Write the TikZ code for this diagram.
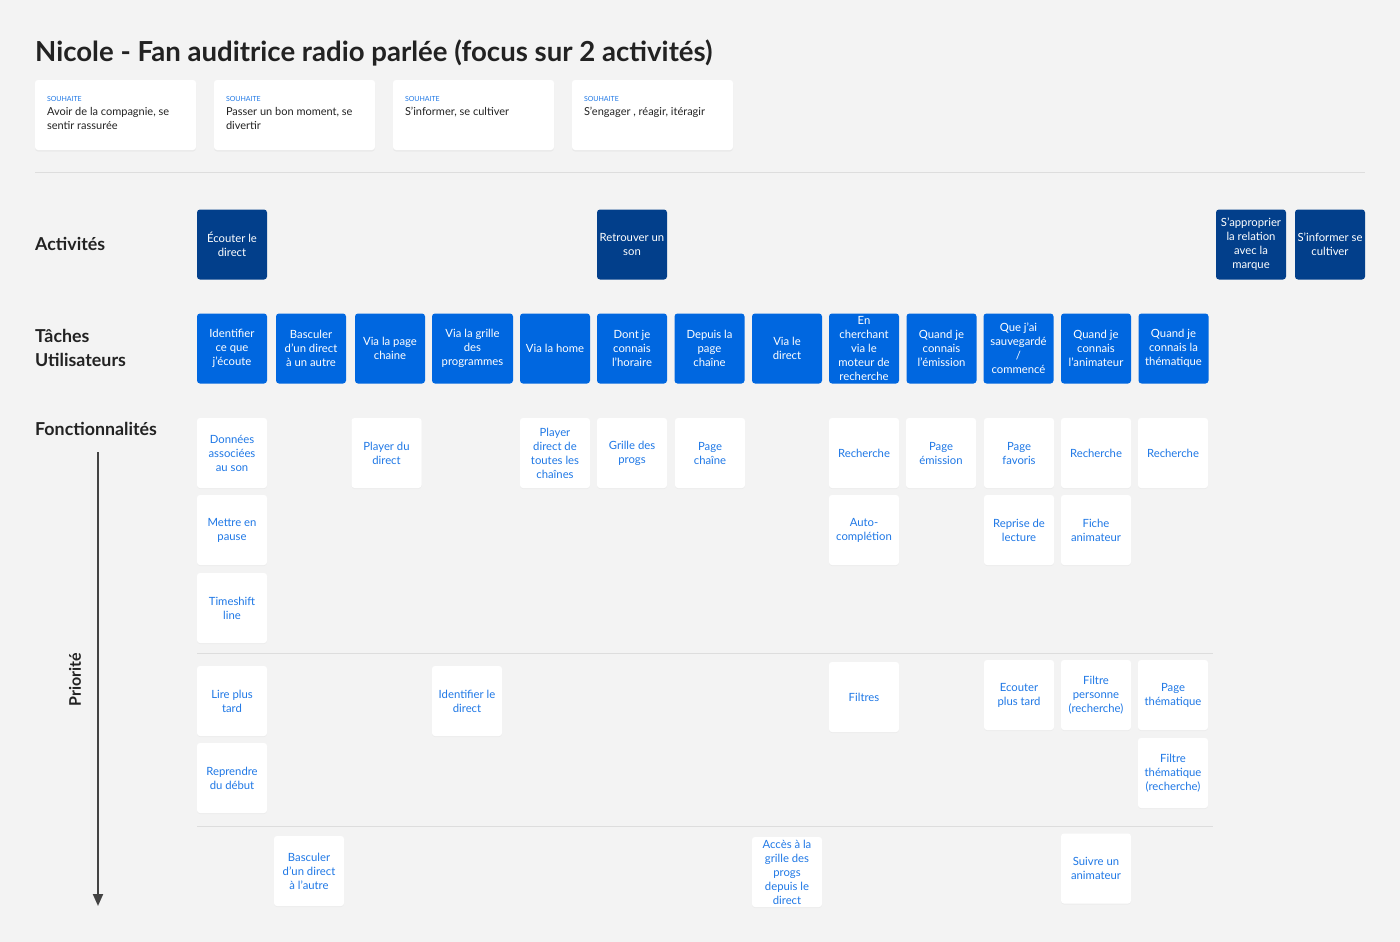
\documentclass[tikz,border=0pt]{standalone}
\usepackage{fontspec}
\setmainfont{Lato}
\usetikzlibrary{positioning,calc,arrows.meta,shadows}
\definecolor{mbg}{HTML}{F3F3F3}
\definecolor{mink}{HTML}{222222}
\definecolor{mnavy}{HTML}{023F8B}
\definecolor{mblue}{HTML}{0067E0}
\definecolor{mtext}{HTML}{1F78E6}
\definecolor{mline}{HTML}{DDDDDD}
\newcommand{\boxfont}{\fontsize{11.3}{14}\selectfont}
\newcommand{\titlefont}{\fontsize{27.6}{32}\selectfont\bfseries}
\newcommand{\labelfont}{\fontsize{17.8}{24}\selectfont\bfseries}
\tikzstyle{card}=[rectangle, rounded corners=3pt, fill=white, minimum width=70pt, minimum height=70pt, inner sep=1pt, align=center, font=\boxfont, text=mtext]
\tikzstyle{feat}=[card, drop shadow={opacity=0.06, shadow xshift=0pt, shadow yshift=-1pt}]
\tikzstyle{activity}=[card, fill=mnavy, text=white]
\tikzstyle{task}=[card, fill=mblue, text=white]
\tikzstyle{wish}=[card, minimum width=161pt, drop shadow={opacity=0.08, shadow xshift=0pt, shadow yshift=-1.5pt}]
\tikzstyle{wishlabel}=[inner sep=0pt, font=\fontsize{7}{8}\selectfont, text=mtext]
\tikzstyle{wishtext}=[inner sep=0pt, align=left, font=\fontsize{11}{14}\selectfont, text=mink]
\tikzstyle{rowlabel}=[inner sep=0pt, align=left, font=\labelfont, text=mink]
\tikzstyle{divider}=[draw=mline, line width=1pt]

\begin{document}
\begin{tikzpicture}[x=1pt, y=-1pt, node distance=77pt, on grid]

    \path[fill=mbg] (0,0) rectangle (1400,942);
    \useasboundingbox (0,0) rectangle (1400,942);

    \node (title) [anchor=base west, inner sep=0pt, font=\titlefont, text=mink] at (35,62) {Nicole - Fan auditrice radio parlée (focus sur 2 activités)};

    % souhaits
    \foreach \x/\n/\txt in {115.5/w1/{Avoir de la compagnie, se\\sentir rassurée},
                            294.5/w2/{Passer un bon moment, se\\divertir},
                            473.5/w3/{S'informer, se cultiver},
                            652.5/w4/{S'engager , réagir, itéragir}}{
            \node (\n) [wish] at (\x,115) {};
            \node [wishlabel, anchor=north west] at ($(\n.north west)+(12,16)$) {SOUHAITE};
            \node [wishtext, anchor=north west] at ($(\n.north west)+(12,27)$) {\txt};
        }

    \coordinate (s1l) at (35,172); \coordinate (s1r) at (1365,172);
    \draw[divider] (s1l) -- (s1r);

    % lignes
    \node (lact) [rowlabel, anchor=west] at (35,244) {Activités};
    \node (ltask) [rowlabel, anchor=west] at (35,348) {Tâches\\Utilisateurs};
    \node (lfeat) [rowlabel, anchor=west] at (35,429) {Fonctionnalités};

    % activités
    \node (a1) [activity] at (232,244.5) {Écouter le\\direct};
    \node (a2) [activity] at (632,244.5) {Retrouver un\\son};
    \node (a3) [activity] at (1251,244.5) {S'approprier\\la relation\\avec la\\marque};
    \node (a4) [activity] at (1330,244.5) {S'informer se\\cultiver};

    % taches
    \foreach \x/\w/\n/\txt in {232/70/t1/{Identifier\\ce que\\j'écoute},
                               311/70/t2/{Basculer\\d'un direct\\à un autre},
                               390/70/t3/{Via la page\\chaine},
                               472.5/81/t4/{Via la grille\\des\\programmes},
                               555/70/t5/{Via la home},
                               632/70/t6/{Dont je\\connais\\l'horaire},
                               709.5/70/t7/{Depuis la\\page\\chaîne},
                               787/70/t8/{Via le\\direct},
                               864/70/t9/{En\\cherchant\\via le\\moteur de\\recherche},
                               941.5/70/t10/{Quand je\\connais\\l'émission},
                               1018.5/70/t11/{Que j'ai\\sauvegardé\\/\\commencé},
                               1096/70/t12/{Quand je\\connais\\l'animateur},
                               1173.5/70/t13/{Quand je\\connais la\\thématique}}{
            \node (\n) [task, minimum width=\w pt] at (\x,348.5) {\txt};
        }

    % fonctionnalites
    \node (f11) [feat] at (232,453) {Données\\associées\\au son};
    \node (f12) [feat] at (386.5,453) {Player du\\direct};
    \node (f13) [feat] at (555,453) {Player\\direct de\\toutes les\\chaînes};
    \node (f14) [feat] at (632,453) {Grille des\\progs};
    \node (f15) [feat] at (710,453) {Page\\chaîne};
    \node (f16) [feat] at (864,453) {Recherche};
    \node (f17) [feat] at (941,453) {Page\\émission};
    \node (f18) [feat] at (1019,453) {Page\\favoris};
    \node (f19) [feat] at (1096,453) {Recherche};
    \node (f110) [feat] at (1173,453) {Recherche};

    \node (f21) [feat, below=of f11] {Mettre en\\pause};
    \node (f22) [feat, below=of f16] {Auto-\\complétion};
    \node (f23) [feat, below=of f18] {Reprise de\\lecture};
    \node (f24) [feat, below=of f19] {Fiche\\animateur};
    \node (f31) [feat, below=78pt of f21] {Timeshift\\line};

    \coordinate (d1l) at (197,653); \coordinate (d1r) at (1213,653);
    \draw[divider] (d1l) -- (d1r);

    \node (f41) [feat] at (232,701) {Lire plus\\tard};
    \node (f42) [feat] at (467,701) {Identifier le\\direct};
    \node (f43) [feat] at (864,697) {Filtres};
    \node (f44) [feat] at (1019,695) {Ecouter\\plus tard};
    \node (f45) [feat] at (1096,695) {Filtre\\personne\\(recherche)};
    \node (f46) [feat] at (1173,695) {Page\\thématique};
    \node (f51) [feat, below=of f41] {Reprendre\\du début};
    \node (f52) [feat, below=78pt of f46] {Filtre\\thématique\\(recherche)};

    \coordinate (d2l) at (197,826); \coordinate (d2r) at (1213,826);
    \draw[divider] (d2l) -- (d2r);

    \node (f61) [feat] at (309,871) {Basculer\\d'un direct\\à l'autre};
    \node (f62) [feat] at (787,872) {Accès à la\\grille des\\progs\\depuis le\\direct};
    \node (f63) [feat] at (1096,868.5) {Suivre un\\animateur};

    % priorite
    \coordinate (pa) at (98,452);
    \coordinate (pb) at (98,906);
    \draw[draw=mink!85, line width=2pt, -{Triangle[length=12pt, width=10pt]}] (pa) -- (pb);
    \node (prio) [rotate=90, inner sep=0pt, font=\fontsize{16}{18}\selectfont\bfseries, text=mink] at (75,680) {Priorité};

\end{tikzpicture}
\end{document}
